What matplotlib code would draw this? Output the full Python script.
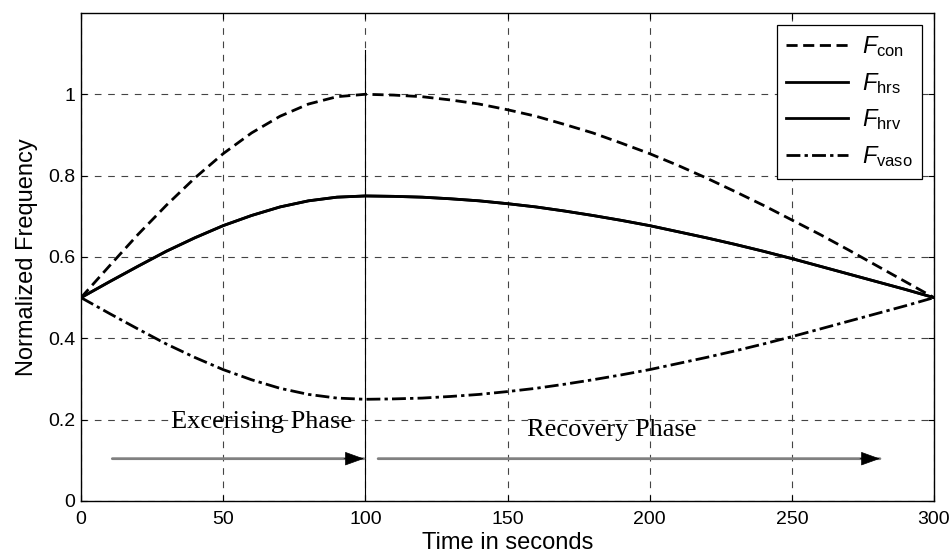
import matplotlib
matplotlib.use("Agg")
import matplotlib.pyplot as plt

plt.rcParams['font.family'] = ['Liberation Sans', 'DejaVu Sans']
plt.rcParams['mathtext.fontset'] = 'custom'
plt.rcParams['mathtext.it'] = 'Liberation Sans:italic'
plt.rcParams['mathtext.rm'] = 'Liberation Sans'

# time axis (seconds), read every 10 s off the figure
t = [0, 10, 20, 30, 40, 50, 60, 70, 80, 90, 100,
     110, 120, 130, 140, 150, 160, 170, 180, 190, 200,
     210, 220, 230, 240, 250, 260, 270, 280, 290, 300]

f_con = [0.500, 0.578, 0.655, 0.727, 0.794, 0.854, 0.905, 0.946, 0.976, 0.994, 1.000,
         0.998, 0.994, 0.986, 0.976, 0.962, 0.946, 0.926, 0.905, 0.880, 0.854,
         0.825, 0.794, 0.761, 0.727, 0.691, 0.655, 0.617, 0.578, 0.539, 0.500]

f_hrs = [0.500, 0.539, 0.577, 0.614, 0.647, 0.677, 0.702, 0.723, 0.738, 0.747, 0.750,
         0.749, 0.747, 0.743, 0.738, 0.731, 0.723, 0.713, 0.702, 0.690, 0.677,
         0.662, 0.647, 0.631, 0.614, 0.596, 0.577, 0.558, 0.539, 0.520, 0.500]

f_hrv = list(f_hrs)  # drawn on top of F_hrs

f_vaso = [0.500, 0.461, 0.423, 0.386, 0.353, 0.323, 0.298, 0.277, 0.262, 0.253, 0.250,
          0.251, 0.253, 0.257, 0.262, 0.269, 0.277, 0.287, 0.298, 0.310, 0.323,
          0.338, 0.353, 0.369, 0.386, 0.404, 0.423, 0.442, 0.461, 0.480, 0.500]

xticks = [0, 50, 100, 150, 200, 250, 300]
yticks = [0, 0.2, 0.4, 0.6, 0.8, 1.0]
ytick_labels = ['0', '0.2', '0.4', '0.6', '0.8', '1']

fig = plt.figure(figsize=(9.51, 5.6), dpi=100)
ax = fig.add_axes([0.0852, 0.1054, 0.8969, 0.8715])

ax.plot(t, f_con, color='black', lw=2, ls=(0, (4, 2)), label=r'$F_{\mathrm{con}}$')
ax.plot(t, f_hrs, color='black', lw=2, ls='-', label=r'$F_{\mathrm{hrs}}$')
ax.plot(t, f_hrv, color='black', lw=2, ls='-', label=r'$F_{\mathrm{hrv}}$')
ax.plot(t, f_vaso, color='black', lw=2, ls=(0, (5, 1.5, 1.2, 1.5)), label=r'$F_{\mathrm{vaso}}$')

# phase divider
ax.plot([100, 100], [0, 1.11], color='black', lw=0.8)

ax.set_xlim(0, 300)
ax.set_ylim(0, 1.2)
ax.set_xticks(xticks)
ax.set_yticks(yticks)
ax.set_yticklabels(ytick_labels)
ax.tick_params(direction='in', top=True, right=True, length=4, labelsize=14, pad=4)
ax.tick_params(axis='x', pad=7)
ax.grid(True, color='#444444', ls=(0, (6, 6)), lw=0.8)
for s in ax.spines.values():
    s.set_linewidth(1.0)

ax.set_xlabel('Time in seconds', fontsize=17, labelpad=3)
ax.set_ylabel('Normalized Frequency', fontsize=17, labelpad=7)

# phase arrows: gray shaft, black head
for x0, x1 in [(11, 99.5), (104.5, 281)]:
    ax.annotate('', xy=(x1, 0.104), xytext=(x0, 0.104),
                arrowprops=dict(arrowstyle='-', color='#808080', lw=2, shrinkA=0, shrinkB=0))
    ax.annotate('', xy=(x1, 0.104), xytext=(x1 - 7, 0.104),
                arrowprops=dict(arrowstyle='-|>,head_length=1.25,head_width=0.45',
                                color='black', lw=0.5, shrinkA=0, shrinkB=0))

ax.text(63.5, 0.193, 'Excerising Phase', family='Liberation Serif', fontsize=19,
        ha='center', va='center')
ax.text(186.5, 0.175, 'Recovery Phase', family='Liberation Serif', fontsize=19,
        ha='center', va='center')

leg = ax.legend(loc='upper right', fontsize=17, handlelength=2.6, labelspacing=0.5,
                borderpad=0.4, handletextpad=0.6, fancybox=False, framealpha=1,
                edgecolor='black', borderaxespad=0.5)
leg.get_frame().set_linewidth(0.9)

fig.savefig('out.png', dpi=100)
